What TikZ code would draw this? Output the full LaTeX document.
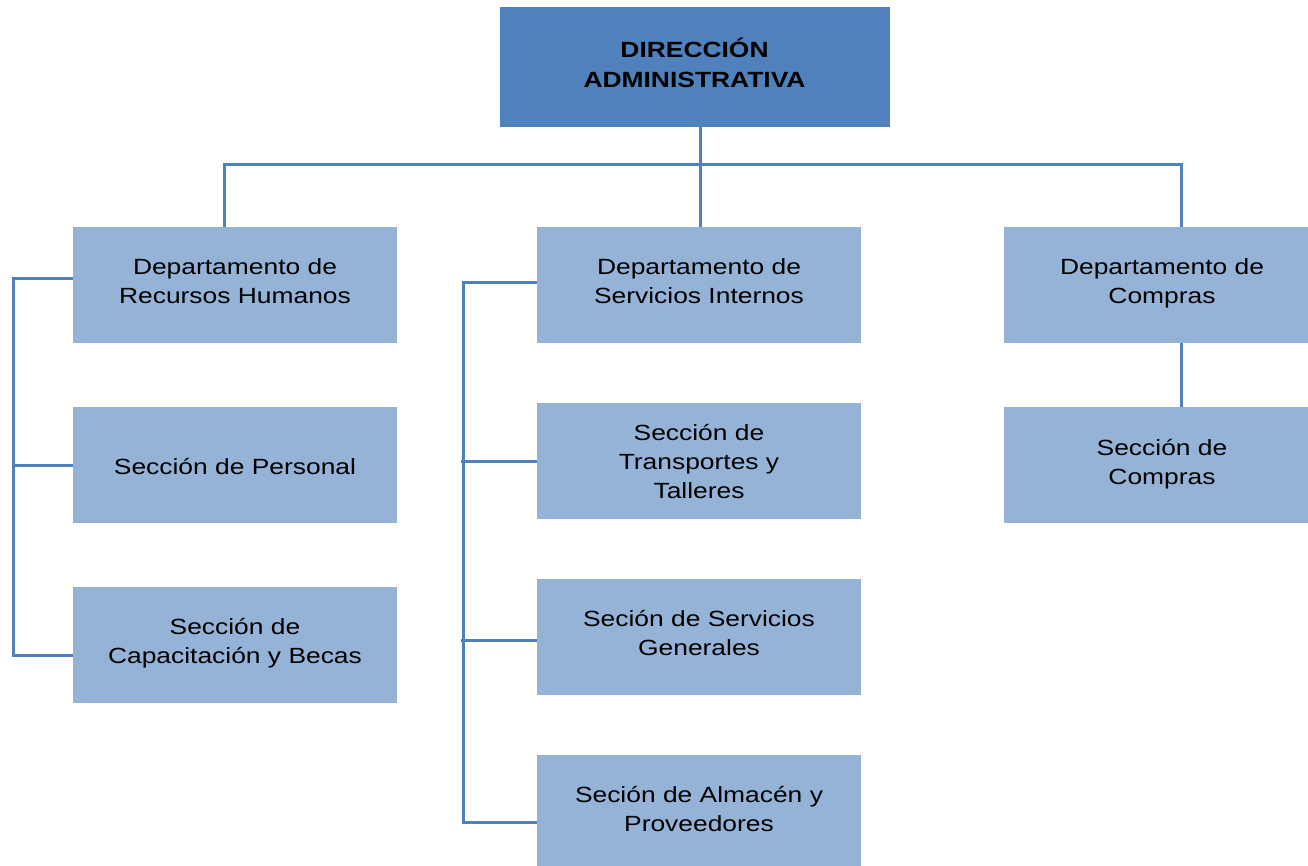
\documentclass[tikz,border=0pt]{standalone}
\usepackage{fontspec}
\setmainfont{Liberation Sans}[FakeStretch=1.2]
\definecolor{dark}{HTML}{4F81BD}
\definecolor{light}{HTML}{95B3D7}
\definecolor{linec}{HTML}{4F81BD}
\tikzset{
  topbox/.style={fill=dark, draw=dark, minimum width=389pt, minimum height=119pt, inner sep=0pt},
  toptext/.style={align=center, font=\fontsize{22}{30}\selectfont\bfseries, yshift=4pt},
  child/.style={fill=light, draw=none, minimum width=324pt, minimum height=116pt, inner sep=0pt},
  childtext/.style={align=center, font=\fontsize{22}{29}\selectfont, yshift=4pt},
  conn/.style={draw=linec, line width=3pt}
}
\begin{document}
\begin{tikzpicture}[x=1pt,y=-1pt]
\useasboundingbox (0,0) rectangle (1308,866);
\clip (0,0) rectangle (1308,866);
\node[topbox, label={[toptext]center:{DIRECCIÓN\\ADMINISTRATIVA}}] (dir) at (694.5,66.5) {};
% left column
\node[child, label={[childtext]center:{Departamento de\\Recursos Humanos}}] (rh) at (235,285) {};
\node[child, label={[childtext,yshift=-6pt]center:{Sección de Personal}}] (sp) at (235,465) {};
\node[child, label={[childtext,yshift=-2pt]center:{Sección de\\Capacitación y Becas}}] (cb) at (235,645) {};
% middle column
\node[child, label={[childtext]center:{Departamento de\\Servicios Internos}}] (si) at (699,285) {};
\node[child, label={[childtext,yshift=-4.5pt]center:{Sección de\\Transportes y\\Talleres}}] (tr) at (699,461) {};
\node[child, label={[childtext]center:{Seción de Servicios\\Generales}}] (ge) at (699,637) {};
\node[child, label={[childtext]center:{Seción de Almacén y\\Proveedores}}] (al) at (699,813) {};
% right column
\node[child, label={[childtext,xshift=-4pt,yshift=-2.5pt]center:{Departamento de\\Compras}}] (co) at (1166,285) {};
\node[child, label={[childtext,xshift=-4pt,yshift=-3.5pt]center:{Sección de\\Compras}}] (sc) at (1166,465) {};
% connectors
\coordinate (bus) at (700,165);
\draw[conn] ([xshift=5.5pt]dir.south) -- ([xshift=1pt]si.north);
\draw[conn] ([xshift=-11pt]rh.north) |- (bus) -| ([xshift=15pt]co.north);
\draw[conn] ([yshift=6pt]rh.west) -- ++(-59,0) |- ([yshift=-10pt]cb.west);
\draw[conn] (sp.west) -- ++(-59,0);
\draw[conn] ([yshift=2pt]si.west) -- ++(-73,0) |- ([yshift=-9pt]al.west);
\draw[conn] (tr.west) -- ++(-76,0);
\draw[conn] ([yshift=-3pt]ge.west) -- ++(-76,0);
\draw[conn] ([xshift=15pt]co.south) -- ([xshift=15pt]sc.north);
\end{tikzpicture}
\end{document}
